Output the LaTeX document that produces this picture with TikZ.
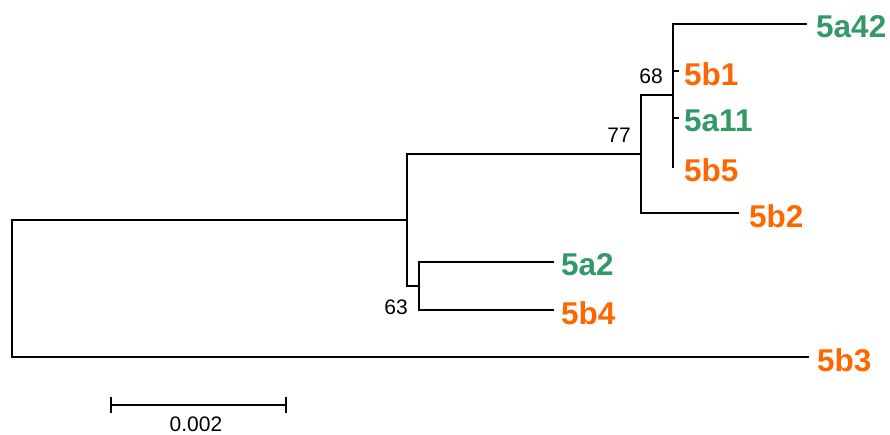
\documentclass[tikz,border=0pt]{standalone}
\usepackage{fontspec}
\setmainfont{Liberation Sans}
\definecolor{cladeA}{HTML}{339966}
\definecolor{cladeB}{HTML}{FF6600}
\tikzset{
  branch/.style={line width=1.6pt, line cap=rect},
  leafA/.style={anchor=west, inner sep=0pt, text=cladeA, font=\fontsize{31.5}{31.5}\selectfont\bfseries},
  leafB/.style={anchor=west, inner sep=0pt, text=cladeB, font=\fontsize{31.5}{31.5}\selectfont\bfseries},
  boot/.style={anchor=east, inner sep=0pt, font=\fontsize{21}{21}\selectfont},
  scalelab/.style={inner sep=0pt, font=\fontsize{21}{21}\selectfont}
}
\begin{document}
\begin{tikzpicture}[x=1pt, y=-1pt]
\useasboundingbox (0,0) rectangle (890,434);

% internal nodes (vertical bars)
\coordinate (root)  at (12,288);
\coordinate (n77)   at (641,154);
\coordinate (n68)   at (673,95);
\coordinate (nmid)  at (407,220);
\coordinate (n63)   at (419,286);

% tips (branch ends)
\coordinate (t5a42) at (806,24);
\coordinate (t5b1)  at (678,71);
\coordinate (t5a11) at (678,118);
\coordinate (t5b5)  at (673,167);
\coordinate (t5b2)  at (738,213);
\coordinate (t5a2)  at (553,262);
\coordinate (t5b4)  at (553,310);
\coordinate (t5b3)  at (808,357);

% root and its two children
\draw[branch] (nmid) -| (root |- nmid) -- (root |- t5b3) -- (t5b3);
% middle clade
\draw[branch] (n77) -| (nmid |- n77) -- (nmid |- n63) -- (n63);
% clade 63
\draw[branch] (t5a2) -| (n63 |- t5a2) -- (n63 |- t5b4) -- (t5b4);
% clade 77
\draw[branch] (n68) -| (n77 |- n68) -- (n77 |- t5b2) -- (t5b2);
% clade 68
\draw[branch] (t5a42) -| (n68 |- t5a42) -- (t5b5);
\draw[branch] (n68 |- t5b1) -- (t5b1);
\draw[branch] (n68 |- t5a11) -- (t5a11);

% tip labels
\node[leafA] (l5a42) at ([xshift=10pt,yshift=-3pt]t5a42) {5a42};
\node[leafB] (l5b1)  at ([xshift=6pt,yshift=-3pt]t5b1) {5b1};
\node[leafA] (l5a11) at ([xshift=6pt,yshift=-3pt]t5a11) {5a11};
\node[leafB] (l5b5)  at ([xshift=11pt,yshift=-3pt]t5b5) {5b5};
\node[leafB] (l5b2)  at ([xshift=11pt,yshift=-3pt]t5b2) {5b2};
\node[leafA] (l5a2)  at ([xshift=8pt,yshift=-3pt]t5a2) {5a2};
\node[leafB] (l5b4)  at ([xshift=8pt,yshift=-3pt]t5b4) {5b4};
\node[leafB] (l5b3)  at ([xshift=9pt,yshift=-3pt]t5b3) {5b3};

% bootstrap values
\node[boot] (b68) at (663,76) {68};
\node[boot] (b77) at (631,135) {77};
\node[boot] (b63) at (408,307) {63};

% scale bar
\coordinate (sL) at (111,405);
\coordinate (sR) at (286,405);
\draw[line width=1.6pt] (sL) -- (sR);
\draw[line width=1.6pt] ([yshift=-8pt]sL) -- ([yshift=8pt]sL);
\draw[line width=1.6pt] ([yshift=-8pt]sR) -- ([yshift=8pt]sR);
\node[scalelab] (slab) at (196,424) {0.002};
\end{tikzpicture}
\end{document}
